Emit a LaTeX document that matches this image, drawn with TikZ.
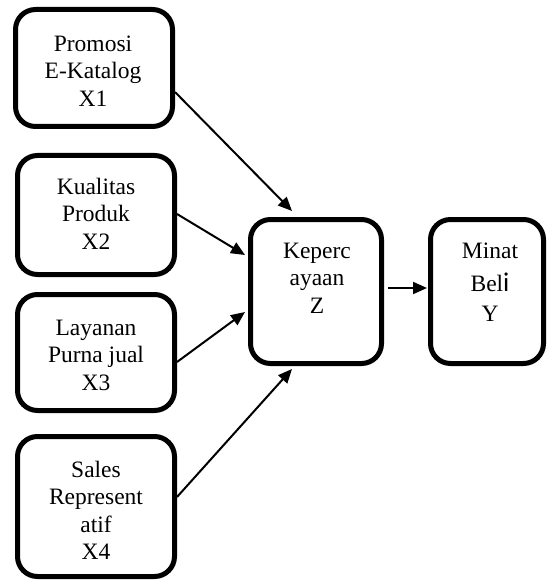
\documentclass[tikz,border=0pt]{standalone}
\usepackage{fontspec}
\setmainfont{Liberation Serif}
\newfontfamily\carlitofont{Carlito}
\usetikzlibrary{arrows.meta}
\begin{document}
\begin{tikzpicture}[x=1pt,y=-1pt,
  box/.style={draw, line width=5pt, rounded corners=20pt, inner sep=0pt, outer sep=2.5pt},
  txt/.style={anchor=north, align=center, inner sep=0pt, font=\fontsize{23.5}{27.5}\selectfont},
  conn/.style={line width=2pt, -{Triangle[length=14pt,width=12pt]}}
]
\useasboundingbox (0,0) rectangle (546,580);
% boxes
\node[box, minimum width=157pt, minimum height=117pt] (X1) at (94,68) {};
\node[box, minimum width=157pt, minimum height=119pt] (X2) at (96,215) {};
\node[box, minimum width=157pt, minimum height=116pt] (X3) at (96,352.5) {};
\node[box, minimum width=157pt, minimum height=140pt] (X4) at (96,506.5) {};
\node[box, minimum width=131pt, minimum height=144pt] (Z) at (316,291.5) {};
\node[box, minimum width=113pt, minimum height=144pt] (Y) at (487,291.5) {};
% texts
\node[txt] (tX1) at (93,31) {\rule{0pt}{20pt}Promosi\\E-Katalog\\X1};
\node[txt] (tX2) at (96,174) {\rule{0pt}{20pt}Kualitas\\Produk\\X2};
\node[txt] (tX3) at (96,315) {\rule{0pt}{20pt}Layanan\\Purna jual\\X3};
\node[txt] (tX4) at (96,457) {\rule{0pt}{20pt}Sales\\Represent\\atif\\X4};
\node[txt] (tZ) at (317,238) {\rule{0pt}{20pt}Keperc\\ayaan\\Z};
\node[txt] (tY) at (490,238) {\rule{0pt}{20pt}Minat\\[5.5pt]Bel{\carlitofont\fontsize{27}{30}\selectfont i}\\[2.5pt]Y};
% connectors
\draw[conn] ([yshift=-24pt]X1.east) -- ([xshift=-24pt,yshift=6pt]Z.north);
\draw[conn] ([yshift=1pt]X2.east) -- ([xshift=-3pt,yshift=36.5pt]Z.west);
\draw[conn] ([yshift=-9.5pt]X3.east) -- ([xshift=-3pt,yshift=-20.5pt]Z.west);
\draw[conn] ([yshift=9.5pt]X4.east) -- ([xshift=-24pt,yshift=-3pt]Z.south);
\draw[conn] ([xshift=4pt,yshift=3.5pt]Z.east) -- ([xshift=-1pt,yshift=3.5pt]Y.west);
\end{tikzpicture}
\end{document}
